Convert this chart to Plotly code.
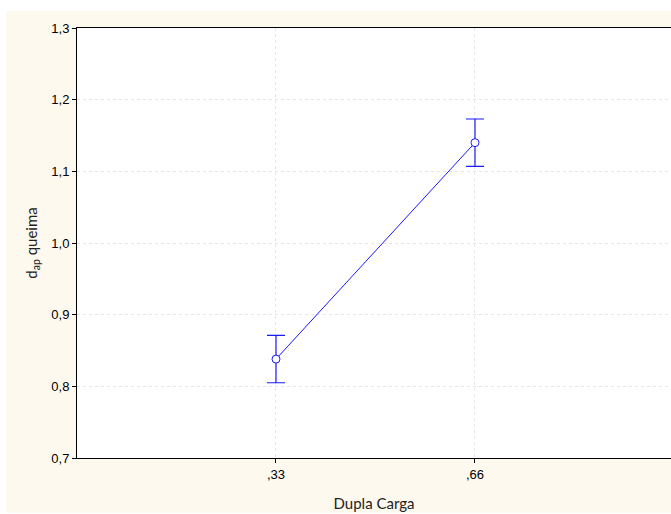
import plotly.graph_objects as go

categories = [",33", ",66"]
means = [0.838, 1.140]
errors = [0.033, 0.033]
y_ticks = [0.7, 0.8, 0.9, 1.0, 1.1, 1.2, 1.3]
y_tick_labels = ["0,7", "0,8", "0,9", "1,0", "1,1", "1,2", "1,3"]

W, H = 671, 514
ML, MT, MB, MR = 77, 28, 56, 0

fig = go.Figure()
fig.add_trace(go.Scatter(
    x=[0, 1], y=means,
    mode="lines+markers",
    line=dict(color="#1a1aff", width=1),
    marker=dict(symbol="circle", size=8, color="white",
                line=dict(color="#1a1aff", width=1)),
    error_y=dict(type="data", array=errors, visible=True,
                 color="#1a1aff", thickness=1.2, width=9),
    showlegend=False,
))

# cream background region (page white outside)
x_left_px, y_top_px, y_bot_px = 6, 11, 513
pw = W - ML - MR
ph = H - MT - MB
fig.add_shape(type="rect", xref="paper", yref="paper", layer="below",
              x0=(x_left_px - ML) / pw, x1=1.02,
              y0=-(y_bot_px - (H - MB)) / ph,
              y1=1 + (MT - y_top_px) / ph,
              fillcolor="#fef9ee", line=dict(width=0))
fig.add_shape(type="rect", xref="paper", yref="paper", layer="below",
              x0=0, x1=1.02, y0=0, y1=1,
              fillcolor="white", line=dict(width=0))

title_font = dict(family="Lato, Open Sans", size=15, color="#222")

fig.update_layout(
    width=W, height=H,
    margin=dict(l=ML, r=MR, t=MT, b=MB),
    paper_bgcolor="white",
    plot_bgcolor="rgba(0,0,0,0)",
    font=dict(family="Liberation Sans, Arial", size=13, color="black"),
    xaxis=dict(
        range=[-1, 1.985],
        tickmode="array", tickvals=[0, 1], ticktext=categories,
        showgrid=True, gridcolor="#e6e6e6", griddash="dot", gridwidth=1,
        showline=True, linecolor="black", linewidth=1, mirror=True,
        ticks="outside", ticklen=4, tickcolor="black",
        zeroline=False,
        title=dict(text="Dupla Carga", font=title_font, standoff=17),
    ),
    yaxis=dict(
        range=[0.7, 1.3],
        tickmode="array", tickvals=y_ticks, ticktext=y_tick_labels,
        showgrid=True, gridcolor="#e6e6e6", griddash="dot", gridwidth=1,
        showline=True, linecolor="black", linewidth=1,
        ticks="outside", ticklen=4, tickcolor="black",
        zeroline=False,
        title=dict(text="d<sub>ap</sub> queima", font=title_font, standoff=10),
    ),
)

fig.write_html("out.html", config={"displayModeBar": False},
               post_script="document.body.style.margin='0';document.body.style.overflow='hidden';")
